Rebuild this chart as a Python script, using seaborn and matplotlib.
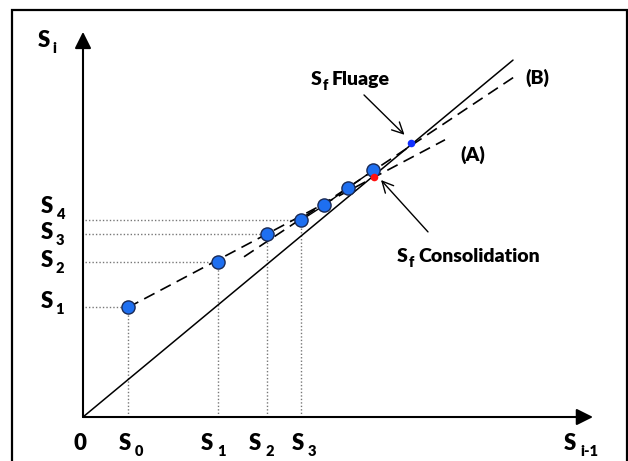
import matplotlib
matplotlib.use("Agg")
import matplotlib.pyplot as plt
import seaborn as sns
import pandas as pd
from matplotlib.patches import Rectangle

# ── Data ───────────────────────────────────────────────────────────────────────
# Asaoka-type plot: settlement S(i) against previous settlement S(i-1)
s_prev = [4.5, 13.5, 18.4, 21.8, 24.1, 26.5, 29.0]
s_curr = [13.2, 18.7, 22.0, 23.7, 25.5, 27.6, 29.7]

x_tick_subs = ["0", "1", "2", "3"]
y_tick_subs = ["1", "2", "3", "4"]

diag_x = [0.0, 43.0]                 # 45 degree line S(i) = S(i-1)
line_a_x = [4.5, 36.2]               # dashed fit (A)
line_a_y = [13.2, 33.4]
line_b_x = [16.1, 43.4]              # dashed fit (B)
line_b_y = [19.3, 41.2]

sf_consol = (29.1, 28.9)
sf_fluage = (32.8, 33.0)

# ── Style ─────────────────────────────────────────────────────────────────────
sns.set_theme(style="white")
plt.rcParams["font.family"] = ["Lato", "DejaVu Sans"]
plt.rcParams["font.weight"] = "heavy"
plt.rcParams["text.color"] = "black"

FS = 16          # axis labels
SUB = 10.5
FS_NOTE = 14     # annotations
BLUE = "#1e6ff0"

fig = plt.figure(figsize=(6.28, 4.61), dpi=100)
ax = fig.add_axes([0, 0, 1, 1])
# one data unit = 10 px horizontally, 8.3 px vertically; origin at (83, 417) px
ax.set_xlim(-8.3, 54.5)
ax.set_ylim(-5.30, 50.24)
ax.axis("off")


def s_label(x, y, sub, dx=0, dy=0, sub_dx=4, sub_dy=-6, size=FS, sub_size=SUB):
    """'S' with a subscript; (x, y) + (dx, dy) px is the right end of the S on its baseline."""
    ax.annotate("S", (x, y), xytext=(dx, dy), textcoords="offset pixels",
                ha="right", va="baseline", fontsize=size)
    ax.annotate(sub, (x, y), xytext=(dx + sub_dx, dy + sub_dy),
                textcoords="offset pixels", ha="left", va="baseline",
                fontsize=sub_size)


# outer frame
ax.add_patch(Rectangle((-7.1, -10), 61.45, 59.04, fill=False, lw=1.6,
                       ec="black", clip_on=False))

# axes with arrow heads
arrow_kw = dict(arrowstyle="-|>,head_length=1.0,head_width=0.5", color="black",
                lw=1.5, mutation_scale=10, shrinkA=0, shrinkB=0)
ax.annotate("", xy=(51.0, 0), xytext=(0, 0), arrowprops=arrow_kw)
ax.annotate("", xy=(0, 46.4), xytext=(0, 0), arrowprops=arrow_kw)

# dotted guides for the first four points
for xv, yv in zip(s_prev[:4], s_curr[:4]):
    ax.plot([0.2, xv], [yv, yv], ls=(0, (1, 1.5)), lw=1, color="#777777")
    ax.plot([xv, xv], [0, yv], ls=(0, (1, 1.5)), lw=1, color="#777777")

# lines
sns.lineplot(x=diag_x, y=diag_x, color="black", lw=1.1, ax=ax)
sns.lineplot(x=line_a_x, y=line_a_y, color="black", lw=1.2,
             linestyle=(0, (7, 4)), ax=ax)
sns.lineplot(x=line_b_x, y=line_b_y, color="black", lw=1.2,
             linestyle=(0, (7, 4)), ax=ax)
sns.lineplot(x=s_prev[3:], y=s_curr[3:], color="black", lw=1.0, sort=False, ax=ax)

# points
pts = pd.DataFrame({"prev": s_prev, "curr": s_curr})
sns.scatterplot(data=pts, x="prev", y="curr", s=90, color=BLUE,
                edgecolor="#1a2a55", linewidth=1.0, zorder=5, ax=ax)
sns.scatterplot(x=[sf_consol[0]], y=[sf_consol[1]], s=30, color="#ff1010",
                linewidth=0, zorder=6, ax=ax)
sns.scatterplot(x=[sf_fluage[0]], y=[sf_fluage[1]], s=30, color="#1030ff",
                linewidth=0, zorder=6, ax=ax)

# tick labels (hand placed around the guides, as in the source figure)
for xv, sub, nudge in zip(s_prev[:4], x_tick_subs, [3, -5, -6, 3]):
    s_label(xv, -3.98, sub, dx=nudge)
for yv, sub, nudge in zip(s_curr[:4], y_tick_subs, [-1, -5, -5, 7]):
    s_label(-3.03, yv, sub, dy=nudge, sub_dx=3)
ax.text(-0.3, -3.98, "0", fontsize=FS, ha="center", va="baseline")
s_label(-3.3, 44.6, "i", sub_dx=2)
s_label(49.3, -3.98, "i-1", sub_dx=4)

# annotations
note_kw = dict(arrowstyle="->,head_length=0.8,head_width=0.4", color="black",
               lw=1.0, shrinkA=0, shrinkB=0, mutation_scale=10)
ax.annotate("", xy=(32.15, 34.0), xytext=(28.1, 38.8), arrowprops=note_kw)
ax.annotate("", xy=(29.8, 28.55), xytext=(34.5, 22.3), arrowprops=note_kw)
s_label(23.9, 40.0, "f", sub_dx=1, sub_dy=-5, size=FS_NOTE)
ax.annotate("Fluage", (23.9, 40.0), xytext=(10, 0), textcoords="offset pixels",
            ha="left", va="baseline", fontsize=FS_NOTE)
s_label(32.5, 18.67, "f", sub_dx=1, sub_dy=-5, size=FS_NOTE)
ax.annotate("Consolidation", (32.5, 18.67), xytext=(10, 0), textcoords="offset pixels",
            ha="left", va="baseline", fontsize=FS_NOTE)
ax.text(38.95, 31.6, "(A)", fontsize=FS_NOTE, ha="center", va="center")
ax.text(45.4, 40.9, "(B)", fontsize=FS_NOTE, ha="center", va="center")

fig.savefig("out.png", dpi=100)
